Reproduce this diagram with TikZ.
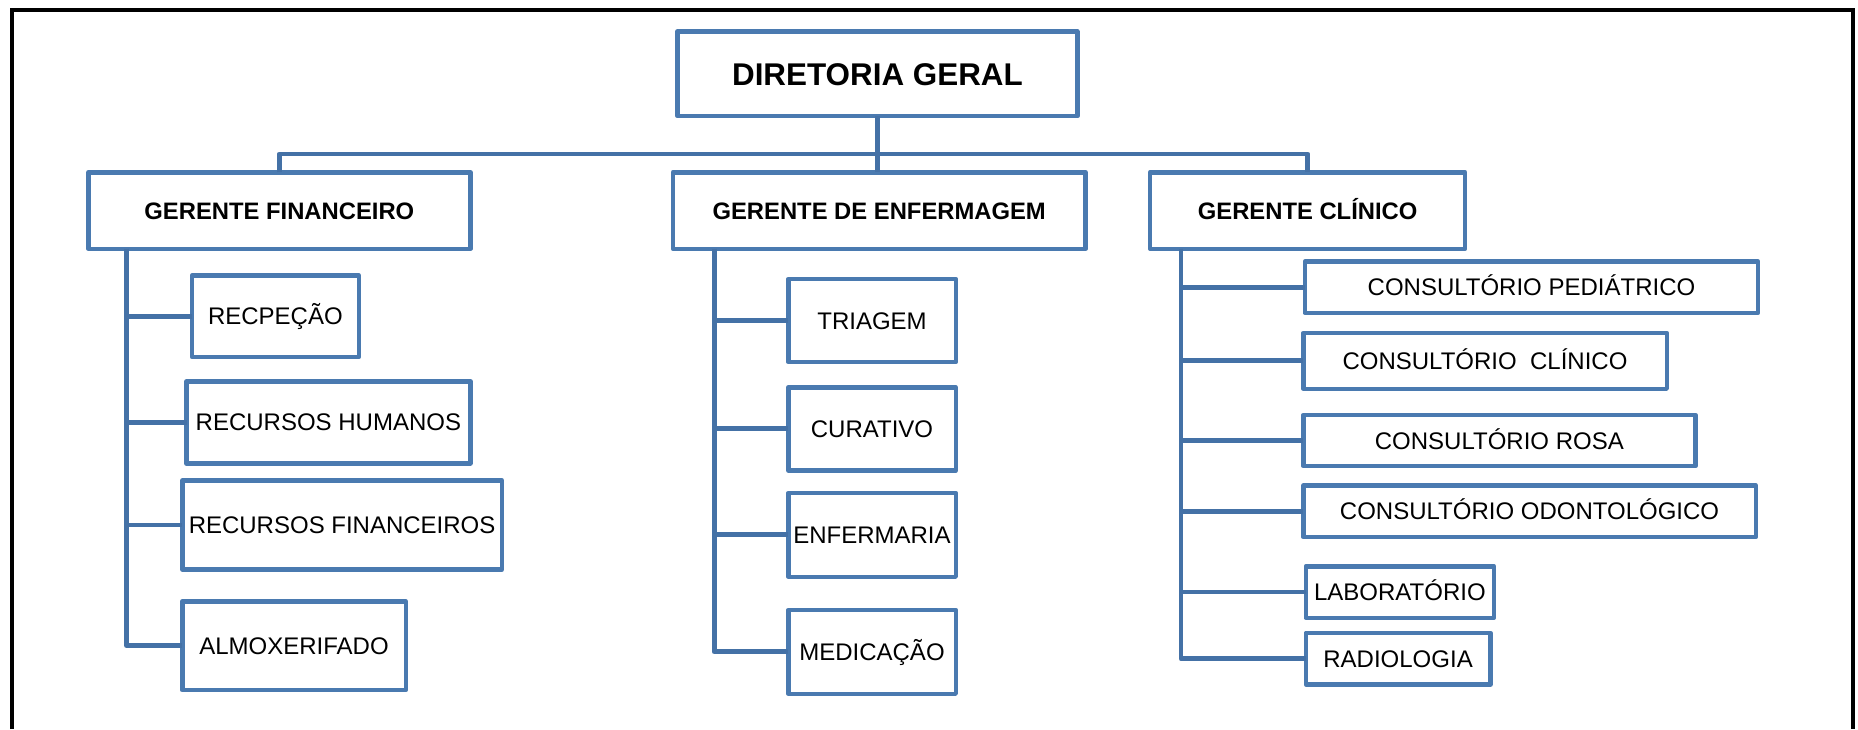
\documentclass[tikz,border=0pt]{standalone}
\usepackage{fontspec}
\setmainfont{Liberation Sans}
\definecolor{boxblue}{RGB}{74,122,176}
\definecolor{linkblue}{RGB}{68,113,166}
\begin{document}
\begin{tikzpicture}[x=0.5pt,y=-0.5pt,
  boxdim/.style 2 args={minimum width=#1*0.5pt, minimum height=#2*0.5pt},
  orgbox/.style={rectangle, draw=boxblue, line width=2.25pt, line join=round, fill=white,
    inner sep=0pt, outer sep=0pt, text height=8.6pt, text depth=0pt,
    font=\fontsize{12}{14}\selectfont},
  headbox/.style={orgbox, text height=8.5pt, font=\bfseries\fontsize{11.9}{14}\selectfont},
  topbox/.style={orgbox, text height=11.2pt, font=\bfseries\fontsize{15.7}{18}\selectfont},
  link/.style={draw=linkblue, line width=2.4pt, line join=round},
  frame/.style={draw=black, line width=2.25pt}]
\useasboundingbox (0,0) rectangle (1858,729);
% outer frame (bottom edge lies outside the picture)
\coordinate (fbl) at (12,729);
\coordinate (ftl) at (12,10);
\coordinate (ftr) at (1853,10);
\coordinate (fbr) at (1853,729);
\draw[frame] (fbl) -- (ftl) -- (ftr) -- (fbr);

% top and managers
\node[topbox, boxdim={399.6}{84.5}] (dg) at (877.45,73.8) {DIRETORIA GERAL};
\node[headbox, boxdim={381.8}{76.5}] (gf) at (279.35,210.5) {GERENTE FINANCEIRO};
\node[headbox, boxdim={412.7}{76.5}] (ge) at (879.2,210.5) {GERENTE DE ENFERMAGEM};
\node[headbox, boxdim={315}{76.5}] (gc) at (1307.65,210.5) {GERENTE CLÍNICO};

% financeiro
\node[orgbox, boxdim={166.7}{81.5}] (rec) at (275.4,316.3) {RECPEÇÃO};
\node[orgbox, boxdim={283.7}{82.2}] (rh) at (328.4,422.35) {RECURSOS HUMANOS};
\node[orgbox, boxdim={319.7}{88.9}] (rf) at (342.1,525) {RECURSOS FINANCEIROS};
\node[orgbox, boxdim={223.5}{88.8}] (alm) at (294,645.65) {ALMOXERIFADO};

% enfermagem
\node[orgbox, boxdim={167.5}{83.1}] (tri) at (872,320.5) {TRIAGEM};
\node[orgbox, boxdim={167.5}{83.2}] (cur) at (872,428.85) {CURATIVO};
\node[orgbox, boxdim={167.5}{83.8}] (enf) at (872,534.85) {ENFERMARIA};
\node[orgbox, boxdim={167.5}{83.8}] (med) at (872,651.85) {MEDICAÇÃO};

% clinico
\node[orgbox, boxdim={453.4}{51.2}] (cp) at (1531.45,287.15) {CONSULTÓRIO PEDIÁTRICO};
\node[orgbox, boxdim={363.5}{55.8}] (cc) at (1485,360.85) {CONSULTÓRIO\ \ CLÍNICO};
\node[orgbox, boxdim={392.2}{51.1}] (cr) at (1499.35,440.5) {CONSULTÓRIO ROSA};
\node[orgbox, boxdim={452.5}{51.5}] (co) at (1529.5,511.3) {CONSULTÓRIO ODONTOLÓGICO};
\node[orgbox, boxdim={188.2}{51.5}] (lab) at (1399.85,592) {LABORATÓRIO};
\node[orgbox, boxdim={184.6}{51.5}] (rad) at (1398.05,658.7) {RADIOLOGIA};

% connectors
\coordinate (bus) at (0,154);
\coordinate (gfv) at (126.5,0);
\coordinate (gev) at (714.1,0);
\coordinate (gcv) at (1181,0);

\draw[link] (gf.north) -- (gf.north |- bus) -- (gc.north |- bus) -- (gc.north);
\draw[link] (dg.south) -- (dg.south |- ge.north);

\draw[link] (gfv |- gf.south) -- (gfv |- alm.west) -- (alm.west);
\foreach \n in {rec,rh,rf} \draw[link] (gfv |- \n.west) -- (\n.west);

\draw[link] (gev |- ge.south) -- (gev |- med.west) -- (med.west);
\foreach \n in {tri,cur,enf} \draw[link] (gev |- \n.west) -- (\n.west);

\draw[link] (gcv |- gc.south) -- (gcv |- rad.west) -- (rad.west);
\foreach \n in {cp,cc,cr,co,lab} \draw[link] (gcv |- \n.west) -- (\n.west);
\end{tikzpicture}
\end{document}
